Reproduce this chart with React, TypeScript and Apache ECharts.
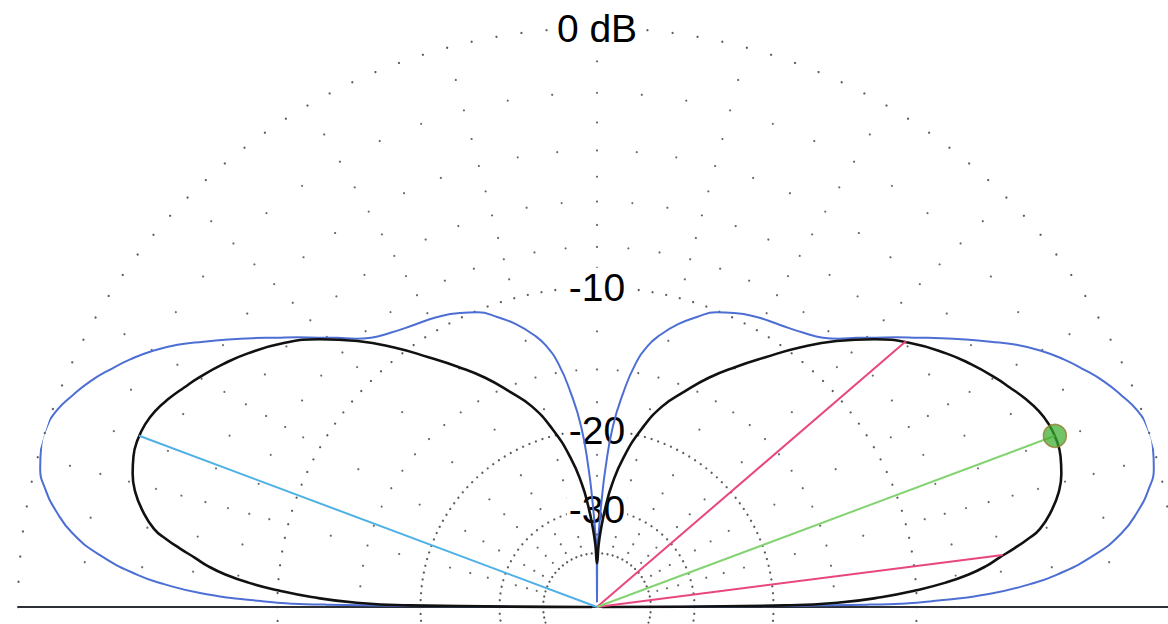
import React, { useEffect, useRef } from "react";
import * as echarts from "echarts";

// ARRL log-periodic radial scale: every 2 dB the radius shrinks by this ratio
const RATIO_PER_2DB = 0.888;
const arrl = (db: number) => Math.pow(RATIO_PER_2DB, -db / 2);

// Grid definition
const RING_DB = [0, -10, -20, -30, -40];
const RING_STEP_DEG = [2.5, 2.5, 2.25, 4, 5.625];
const RING_LABELS = ["0 dB", "-10", "-20", "-30"];
const RADIAL_MAJOR_DEG = [0, 15, 30, 45, 60, 75, 90, 105, 120, 135, 150, 165, 180];
const RADIAL_MAJOR_DB = [-1, -2, -3, -4, -5, -6, -7, -8, -9, -12.5, -15, -17.5, -22.5, -25, -27.5, -32.5, -35, -37.5];
const RADIAL_MINOR_DEG = [5, 10, 20, 25, 35, 40, 50, 55, 65, 70, 80, 85, 95, 100, 110, 115, 125, 130, 140, 145, 155, 160, 170, 175];
const RADIAL_MINOR_DB = [-2, -4, -6, -8, -15];

// Pattern 1 (black): elevation angle (deg) and relative gain (dB)
const BLACK_DEG = [
  0, 0.5, 1, 2, 3, 4, 5, 6, 7, 8, 9, 10, 12, 14, 16, 18, 20, 22, 24, 26, 28, 30, 33, 36, 40, 44, 48, 52, 56, 60, 64, 68, 72, 76, 80, 83, 85, 87, 88.5, 90,
  91.5, 93, 95, 97, 100, 104, 108, 112, 116, 120, 124, 128, 132, 136, 140, 144, 147, 150, 152, 154, 156, 158, 160, 162, 164, 166, 168, 170, 171, 172, 173, 174, 175, 176, 177, 178, 179, 179.5, 180,
];
const BLACK_DB = [
  -80, -19, -14.8, -11.9, -10, -8.5, -7.4, -6.6, -6, -5.35, -4.75, -4.25, -3.7, -3.3, -3.05, -2.9, -2.85, -2.9, -3.05, -3.3, -3.6, -3.9, -4.4, -4.95, -5.8, -6.85, -8.1, -9.5, -11, -12.4, -13.8, -15.4, -17, -19.4, -22.6, -26, -29.3, -33.5, -37.5, -43.5,
  -37.5, -33.5, -29.3, -26, -22.6, -19.4, -17, -15.4, -13.8, -12.4, -11, -9.5, -8.1, -6.85, -5.8, -4.95, -4.4, -3.9, -3.6, -3.3, -3.05, -2.9, -2.85, -2.9, -3.05, -3.3, -3.7, -4.25, -4.75, -5.35, -6, -6.6, -7.4, -8.5, -10, -11.9, -14.8, -19, -80,
];

// Pattern 2 (blue)
const BLUE_DEG = [
  0, 0.5, 1, 2, 3, 4, 6, 8, 10, 12, 14, 16, 18, 20, 22, 24, 26, 28, 30, 32, 34, 36, 38, 40, 42, 44, 46, 48, 50, 53, 57, 61, 65, 68, 71, 74, 77, 79, 81, 83, 85, 86.5, 87.5, 88.7, 89.7, 90,
  90.3, 91.3, 92.5, 93.5, 95, 97, 99, 101, 103, 106, 109, 112, 115, 119, 123, 127, 130, 132, 134, 136, 138, 140, 142, 144, 146, 148, 150, 152, 154, 156, 158, 160, 162, 164, 166, 168, 170, 172, 174, 176, 177, 178, 179, 179.5, 180,
];
const BLUE_DB = [
  -80, -12.8, -9.2, -6.4, -4.9, -3.85, -2.45, -1.5, -0.9, -0.45, -0.15, -0.02, 0, -0.12, -0.4, -0.72, -1.12, -1.55, -2.05, -2.65, -3.35, -4.05, -4.75, -5.45, -6.1, -6.75, -7.35, -7.95, -8.4, -8.8, -9.15, -9.4, -9.75, -10.1, -10.7, -11.4, -12.3, -13.1, -14.4, -16.6, -19.6, -24, -28.4, -34.6, -40, -80,
  -40, -34.6, -28.4, -24, -19.6, -16.6, -14.4, -13.1, -12.3, -11.4, -10.7, -10.1, -9.75, -9.4, -9.15, -8.8, -8.4, -7.95, -7.35, -6.75, -6.1, -5.45, -4.75, -4.05, -3.35, -2.65, -2.05, -1.55, -1.12, -0.72, -0.4, -0.12, 0, -0.02, -0.15, -0.45, -0.9, -1.5, -2.45, -3.85, -4.9, -6.4, -9.2, -12.8, -80,
];

// Marker rays on the black pattern
const PEAK_RIGHT = { deg: 20.5, db: -2.85 };
const PEAK_LEFT = { deg: 159.5, db: -2.85 };
const HALF_POWER = [
  { deg: 7.3, db: -5.85 },
  { deg: 40.7, db: -5.9 },
];

const BASELINE_R = [1.012, 1.0];

export default function App() {
  const ref = useRef<HTMLDivElement>(null);

  useEffect(() => {
    if (!ref.current) return;
    const chart = echarts.init(ref.current, undefined, { renderer: "svg" });

    const ringDots: number[][] = [];
    RING_DB.forEach((db, i) => {
      const step = RING_STEP_DEG[i];
      for (let a = 0; a < 360 - 1e-6; a += step) ringDots.push([arrl(db), a]);
    });
    const radialDots: number[][] = [];
    RADIAL_MAJOR_DEG.forEach((a) => RADIAL_MAJOR_DB.forEach((db) => radialDots.push([arrl(db), a])));
    RADIAL_MINOR_DEG.forEach((a) => RADIAL_MINOR_DB.forEach((db) => radialDots.push([arrl(db), a])));

    const black = BLACK_DEG.map((a, i) => [arrl(BLACK_DB[i]), a]);
    const blue = BLUE_DEG.map((a, i) => [arrl(BLUE_DB[i]), a]);
    const ray = (p: { deg: number; db: number }) => [[0, p.deg], [arrl(p.db), p.deg]];

    const font = '"Liberation Sans", Arial, Helvetica, sans-serif';

    chart.setOption({
      animation: false,
      backgroundColor: "#ffffff",
      polar: { center: [597, 607], radius: 579 },
      angleAxis: {
        type: "value", min: 0, max: 360, startAngle: 0, clockwise: false,
        axisLine: { show: false }, axisTick: { show: false }, axisLabel: { show: false }, splitLine: { show: false },
      },
      radiusAxis: {
        type: "value", min: 0, max: 1,
        axisLine: { show: false }, axisTick: { show: false }, axisLabel: { show: false }, splitLine: { show: false },
      },
      series: [
        {
          name: "rings", type: "scatter", coordinateSystem: "polar", data: ringDots,
          symbol: "circle", symbolSize: 2.3, itemStyle: { color: "#333333" }, silent: true, z: 1,
        },
        {
          name: "radials", type: "scatter", coordinateSystem: "polar", data: radialDots,
          symbol: "circle", symbolSize: 2.2, itemStyle: { color: "#444444" }, silent: true, z: 1,
        },
        {
          name: "baseline", type: "line", coordinateSystem: "polar",
          data: [[BASELINE_R[0], 180], [BASELINE_R[1], 0]],
          symbol: "none", lineStyle: { color: "#2e3038", width: 2 }, z: 2,
        },
        {
          name: "ringLabels", type: "scatter", coordinateSystem: "polar",
          data: RING_LABELS.map((t, i) => ({ name: t, value: [arrl(RING_DB[i]), 90] })),
          symbolSize: 0, itemStyle: { color: "#ffffff", opacity: 1 }, z: 3, silent: true,
          label: {
            show: true, position: "inside", formatter: "{b}", color: "#000000", opacity: 1,
            fontFamily: font, fontSize: 39, backgroundColor: "#ffffff", padding: [0, 2],
            textBorderWidth: 0,
          },
        },
        {
          name: "pattern2", type: "line", coordinateSystem: "polar", data: blue,
          symbol: "none", smooth: 0.5, lineStyle: { color: "#4d6fd4", width: 2 }, z: 4,
        },
        {
          name: "pattern1", type: "line", coordinateSystem: "polar", data: black,
          symbol: "none", smooth: 0.5, lineStyle: { color: "#111111", width: 2.6 }, z: 5,
        },
        {
          name: "peakLeft", type: "line", coordinateSystem: "polar", data: ray(PEAK_LEFT),
          symbol: "none", lineStyle: { color: "#4fb0e6", width: 2 }, z: 6,
        },
        ...HALF_POWER.map((p, i) => ({
          name: "half" + i, type: "line", coordinateSystem: "polar", data: ray(p),
          symbol: "none", lineStyle: { color: "#e8467f", width: 2 }, z: 6,
        })),
        {
          name: "peakRight", type: "line", coordinateSystem: "polar", data: ray(PEAK_RIGHT),
          symbol: "none", lineStyle: { color: "#84d372", width: 2 }, z: 6,
        },
        {
          name: "peakDot", type: "scatter", coordinateSystem: "polar",
          data: [[arrl(PEAK_RIGHT.db), PEAK_RIGHT.deg]],
          symbol: "circle", symbolSize: 23,
          itemStyle: { color: "rgba(58,172,45,0.9)", borderColor: "#9a7a30", borderWidth: 1.5 }, z: 7,
        },
      ],
    });

    return () => chart.dispose();
  }, []);

  return (
    <div
      ref={ref}
      style={{ position: "fixed", left: 0, top: 0, width: 1168, height: 624, background: "#fff" }}
    />
  );
}
